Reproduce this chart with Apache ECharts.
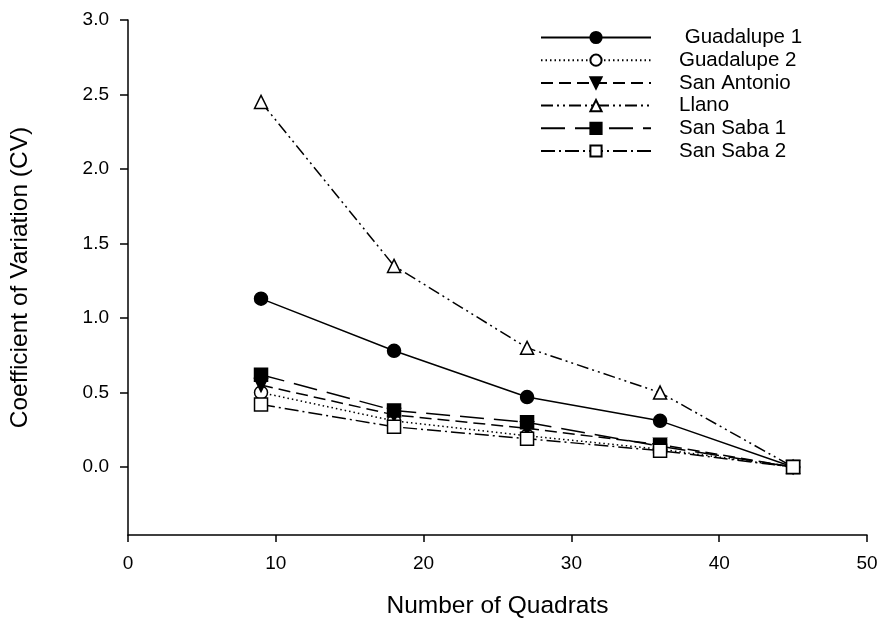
<!DOCTYPE html>
<html>
<head>
<meta charset="utf-8">
<script src="https://cdn.jsdelivr.net/npm/echarts@6/dist/echarts.min.js"></script>
<style>html,body{margin:0;padding:0;background:#fff}#c{width:881px;height:623px}</style>
</head>
<body>
<div id="c"></div>
<script>
var quadrats = [9, 18, 27, 36, 45];
var guadalupe1 = [1.13, 0.78, 0.47, 0.31, 0.0];
var guadalupe2 = [0.50, 0.31, 0.21, 0.12, 0.0];
var sanAntonio = [0.55, 0.35, 0.26, 0.15, 0.0];
var llano = [2.45, 1.35, 0.80, 0.50, 0.0];
var sanSaba1 = [0.62, 0.38, 0.30, 0.14, 0.0];
var sanSaba2 = [0.42, 0.27, 0.19, 0.11, 0.0];
var yTicks = [0, 0.5, 1.0, 1.5, 2.0, 2.5, 3.0];
var xTicks = [0, 10, 20, 30, 40, 50];

function pairs(arr) { return quadrats.map(function (q, i) { return [q, arr[i]]; }); }

var font = 'Liberation Sans, Arial, sans-serif';
function mk(name, data, symbol, filled, dash, rotate) {
  return {
    name: name, type: 'line', data: pairs(data),
    symbol: symbol, symbolSize: 13,
    symbolRotate: rotate || 0,
    itemStyle: { color: filled ? '#000' : '#fff', borderColor: '#000', borderWidth: 1.5 },
    lineStyle: { color: '#000', width: 1.5, type: dash },
    z: 3
  };
}

var chart = echarts.init(document.getElementById('c'), null, { renderer: 'canvas' });
chart.setOption({
  animation: false,
  backgroundColor: '#fff',
  grid: { left: 128, right: 14, top: 20, bottom: 88, containLabel: false, outerBoundsMode: 'none' },
  legend: {
    orient: 'vertical', left: 535, top: 22,
    itemWidth: 110, itemHeight: 14, itemGap: 1.7,
    textStyle: { fontFamily: font, fontSize: 20.5, color: '#000', padding: [0, 0, 0, 23] },
    data: [' Guadalupe 1', 'Guadalupe 2', 'San Antonio', 'Llano', 'San Saba 1', 'San Saba 2']
  },
  xAxis: {
    type: 'value', min: 0, max: 50, interval: 10,
    name: 'Number of Quadrats', nameLocation: 'middle', nameGap: 59,
    nameTextStyle: { fontFamily: font, fontSize: 24.5, color: '#000' },
    axisLine: { onZero: false, lineStyle: { color: '#000', width: 1.5 } },
    axisTick: { show: true, length: 7, lineStyle: { color: '#000', width: 1.5 }, customValues: xTicks },
    axisLabel: { fontFamily: font, fontSize: 19, color: '#000', margin: 19, customValues: xTicks },
    splitLine: { show: false }
  },
  yAxis: {
    type: 'value', min: -0.456, max: 3.0,
    name: 'Coefficient of Variation (CV)', nameLocation: 'middle', nameGap: 95,
    nameTextStyle: { fontFamily: font, fontSize: 24.5, color: '#000' },
    axisLine: { onZero: false, lineStyle: { color: '#000', width: 1.5 } },
    axisTick: { show: true, length: 8, lineStyle: { color: '#000', width: 1.5 }, customValues: yTicks },
    axisLabel: { fontFamily: font, fontSize: 19, color: '#000', margin: 19, customValues: yTicks,
      formatter: function (v) { return v.toFixed(1); } },
    splitLine: { show: false }
  },
  series: [
    mk(' Guadalupe 1', guadalupe1, 'circle', true, 'solid'),
    mk('Guadalupe 2', guadalupe2, 'circle', false, [1.5, 3]),
    mk('San Antonio', sanAntonio, 'triangle', true, [12, 6], 180),
    mk('Llano', llano, 'triangle', false, [12, 4, 2, 4, 2, 4]),
    mk('San Saba 1', sanSaba1, 'rect', true, [24, 10]),
    mk('San Saba 2', sanSaba2, 'rect', false, [14, 4, 2, 4])
  ]
});
</script>
</body>
</html>
